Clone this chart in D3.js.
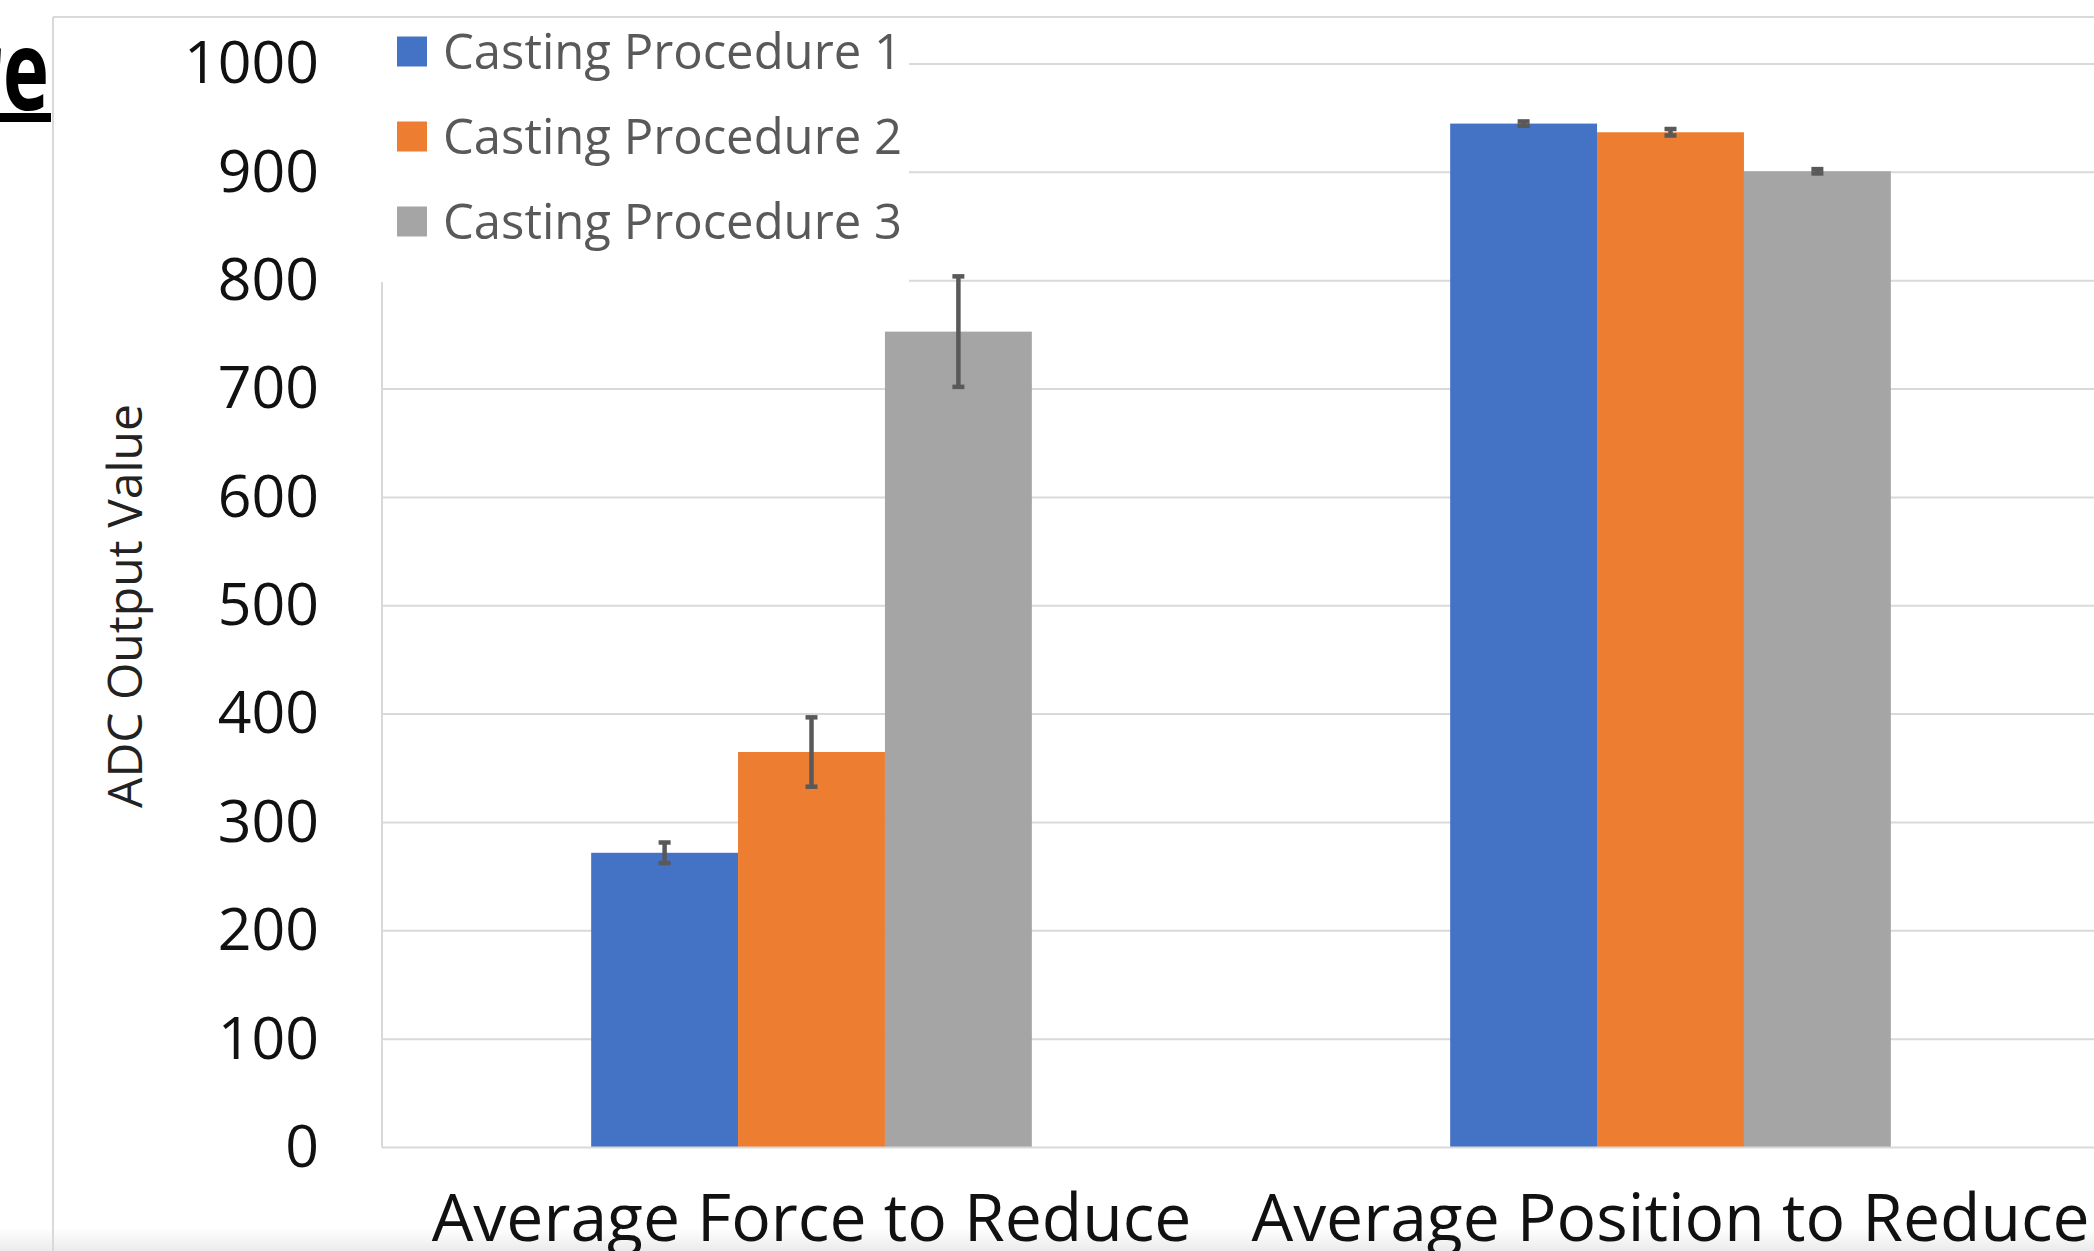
<!DOCTYPE html>
<html>
<head>
<meta charset="utf-8">
<script src="https://cdn.jsdelivr.net/npm/d3@7"></script>
<style>
  html, body { margin: 0; padding: 0; background: #fff; overflow: hidden; }
  svg { display: block; }
</style>
</head>
<body>
<svg id="chart" width="2094" height="1251"></svg>
<script>
// ---- data ----
const categories = ["Average Force to Reduce", "Average Position to Reduce"];
const seriesNames = ["Casting Procedure 1", "Casting Procedure 2", "Casting Procedure 3"];
const procedure1 = [272, 945];
const procedure2 = [365, 937];
const procedure3 = [753, 901];
const error1 = [9.5, 2];
const error2 = [32, 3];
const error3 = [51, 2];
const yTicks = [0, 100, 200, 300, 400, 500, 600, 700, 800, 900, 1000];
const seriesColors = ["#4472C4", "#ED7D31", "#A5A5A5"];

const values = [procedure1, procedure2, procedure3];
const errors = [error1, error2, error3];
const table = [];
categories.forEach((c, ci) => {
  seriesNames.forEach((s, si) => {
    table.push({ category: c, series: s, si, value: values[si][ci], err: errors[si][ci] });
  });
});

const W = 2094, H = 1251;
const svg = d3.select("#chart");
const plotLeft = 382, plotRight = 2094, plotTop = 64, plotBottom = 1147.5;

const y = d3.scaleLinear().domain([0, 1000]).range([plotBottom, plotTop]);
const x0 = d3.scaleBand().domain(categories).range([plotLeft, 2100])
  .paddingInner(0.487).paddingOuter(0.2435);
const x1 = d3.scaleBand().domain(seriesNames).range([0, x0.bandwidth()]).padding(0);
const color = d3.scaleOrdinal().domain(seriesNames).range(seriesColors);

// bottom shadow strip gradient
const defs = svg.append("defs");
const grad = defs.append("linearGradient").attr("id", "shade").attr("x1", 0).attr("x2", 0).attr("y1", 0).attr("y2", 1);
grad.append("stop").attr("offset", "0%").attr("stop-color", "#ffffff");
grad.append("stop").attr("offset", "100%").attr("stop-color", "#e6e6e6");
svg.append("rect").attr("x", 0).attr("y", 1228).attr("width", W).attr("height", H - 1228)
  .attr("fill", "url(#shade)").attr("opacity", 0.8);

// chart container border (top & left)
svg.append("line").attr("x1", 53).attr("x2", W).attr("y1", 17).attr("y2", 17)
  .attr("stroke", "#d9d9d9").attr("stroke-width", 2);
svg.append("line").attr("x1", 53).attr("x2", 53).attr("y1", 17).attr("y2", H)
  .attr("stroke", "#d9d9d9").attr("stroke-width", 2);

// gridlines
svg.append("g").selectAll("line").data(yTicks.filter(d => d > 0)).join("line")
  .attr("x1", plotLeft).attr("x2", plotRight)
  .attr("y1", d => y(d)).attr("y2", d => y(d))
  .attr("stroke", "#d9d9d9").attr("stroke-width", 2);

// vertical axis line
svg.append("line").attr("x1", plotLeft).attr("x2", plotLeft)
  .attr("y1", plotTop).attr("y2", plotBottom)
  .attr("stroke", "#d9d9d9").attr("stroke-width", 2);

// y axis labels
const yAxis = d3.axisLeft(y).tickValues(yTicks).tickFormat(d3.format("d")).tickSize(0).tickPadding(63);
const gy = svg.append("g").attr("transform", `translate(${plotLeft},0)`).call(yAxis);
gy.select(".domain").remove();
gy.selectAll("text").attr("font-family", "'Open Sans', sans-serif")
  .attr("font-size", 59).attr("fill", "#111");

// bars
const groups = svg.append("g").selectAll("g").data(categories).join("g")
  .attr("transform", d => `translate(${x0(d)},0)`);
groups.selectAll("rect").data(c => table.filter(t => t.category === c)).join("rect")
  .attr("x", d => x1(d.series))
  .attr("width", x1.bandwidth())
  .attr("y", d => y(d.value))
  .attr("height", d => y(0) - y(d.value))
  .attr("fill", d => color(d.series));

// baseline
svg.append("line").attr("x1", plotLeft).attr("x2", plotRight)
  .attr("y1", y(0)).attr("y2", y(0))
  .attr("stroke", "#d9d9d9").attr("stroke-width", 2);

// error bars
const eb = groups.selectAll("g.err").data(c => table.filter(t => t.category === c)).join("g").attr("class", "err");
const ecx = d => x1(d.series) + x1.bandwidth() / 2;
eb.append("line").attr("x1", ecx).attr("x2", ecx)
  .attr("y1", d => y(d.value + d.err)).attr("y2", d => y(d.value - d.err))
  .attr("stroke", "#595959").attr("stroke-width", 4.5);
eb.append("line").attr("x1", d => ecx(d) - 6).attr("x2", d => ecx(d) + 6)
  .attr("y1", d => y(d.value + d.err)).attr("y2", d => y(d.value + d.err))
  .attr("stroke", "#595959").attr("stroke-width", 4.5);
eb.append("line").attr("x1", d => ecx(d) - 6).attr("x2", d => ecx(d) + 6)
  .attr("y1", d => y(d.value - d.err)).attr("y2", d => y(d.value - d.err))
  .attr("stroke", "#595959").attr("stroke-width", 4.5);

// category labels
svg.append("g").selectAll("text").data(categories).join("text")
  .attr("x", d => x0(d) + x0.bandwidth() / 2)
  .attr("y", 1241)
  .attr("text-anchor", "middle")
  .attr("font-family", "'Open Sans', sans-serif")
  .attr("font-size", 66).attr("fill", "#111")
  .text(d => d);

// y axis title
svg.append("text")
  .attr("transform", `translate(${142},${606}) rotate(-90)`)
  .attr("text-anchor", "middle")
  .attr("font-family", "'Open Sans', sans-serif")
  .attr("font-size", 48).attr("fill", "#222")
  .text("ADC Output Value");

// legend
const lg = svg.append("g");
lg.append("rect").attr("x", 381).attr("y", 18).attr("width", 528).attr("height", 264).attr("fill", "#fff");
const li = lg.selectAll("g").data(seriesNames).join("g")
  .attr("transform", (d, i) => `translate(397,${51.5 + i * 85})`);
li.append("rect").attr("x", 0).attr("y", -15).attr("width", 30).attr("height", 30).attr("fill", d => color(d));
li.append("text").attr("x", 46).attr("y", 0).attr("dy", "0.36em")
  .attr("font-family", "'Open Sans', sans-serif")
  .attr("font-size", 49).attr("fill", "#595959")
  .text(d => d);

// partial slide title (bold, underlined) at top-left
svg.append("text")
  .attr("transform", "translate(49,110) scale(0.7,1)")
  .attr("text-anchor", "end")
  .attr("font-family", "'Open Sans', sans-serif")
  .attr("font-weight", "bold")
  .attr("font-size", 112).attr("fill", "#000")
  .text("re");
svg.append("rect").attr("x", 0).attr("y", 113).attr("width", 51).attr("height", 9).attr("fill", "#000");
</script>
</body>
</html>
